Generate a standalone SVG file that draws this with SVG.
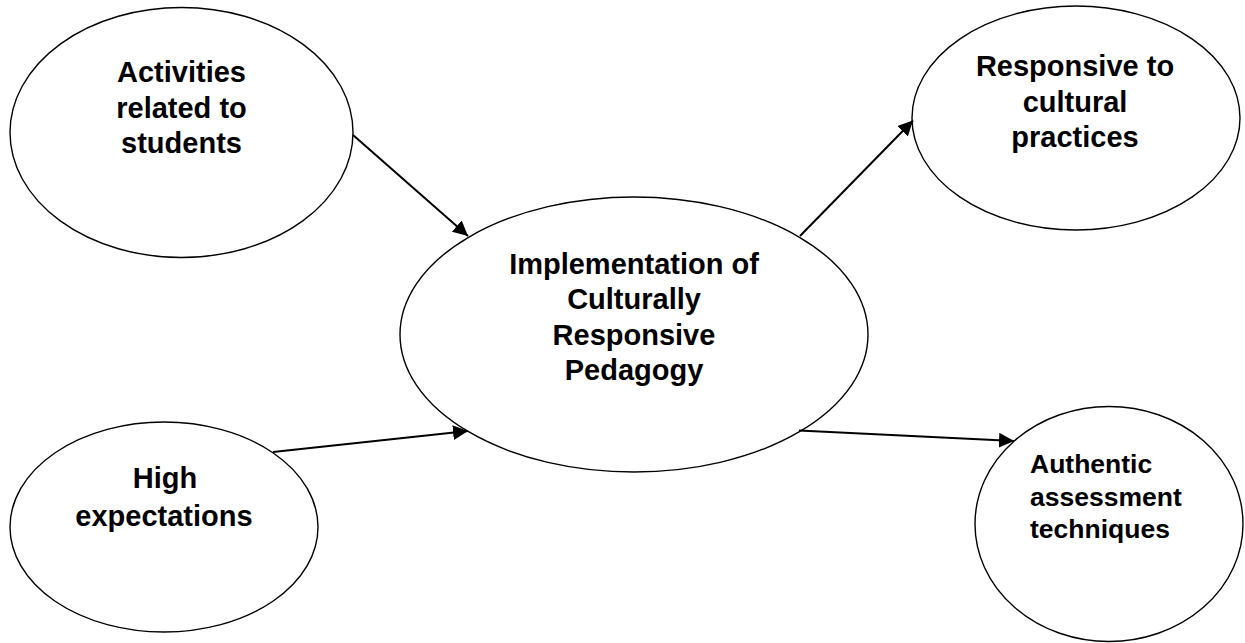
<svg xmlns="http://www.w3.org/2000/svg" width="1245" height="643" viewBox="0 0 1245 643">
<style>
.node ellipse{fill:#fff;stroke:#000;stroke-width:1.4}
.lbl{font-family:"Liberation Sans",Arial,sans-serif;font-weight:bold;font-size:29px;fill:#000;text-anchor:middle}
.sm{font-size:26.5px;text-anchor:start}
.conn line{stroke:#000;stroke-width:2;marker-end:url(#arr)}
</style>
<defs>
<marker id="arr" markerWidth="16" markerHeight="15" refX="15" refY="7.5" orient="auto" markerUnits="userSpaceOnUse">
<path d="M0,0 L15,7.5 L0,15 Z" fill="#000"/>
</marker>
</defs>
<rect width="1245" height="643" fill="#fff"/>
<g id="n-activities" class="node">
<ellipse cx="181.5" cy="132.5" rx="171.5" ry="125"/>
<text class="lbl" x="181.5" y="82">Activities</text>
<text class="lbl" x="181.5" y="117.5">related to</text>
<text class="lbl" x="181.5" y="153">students</text>
</g>
<g id="n-center" class="node">
<ellipse cx="634" cy="334.5" rx="234" ry="137.5"/>
<text class="lbl" x="634" y="273.5">Implementation of</text>
<text class="lbl" x="634" y="309">Culturally</text>
<text class="lbl" x="634" y="344.5">Responsive</text>
<text class="lbl" x="634" y="380">Pedagogy</text>
</g>
<g id="n-responsive" class="node">
<ellipse cx="1076" cy="118" rx="164" ry="112"/>
<text class="lbl" x="1075" y="76">Responsive to</text>
<text class="lbl" x="1075" y="111.5">cultural</text>
<text class="lbl" x="1075" y="147">practices</text>
</g>
<g id="n-high" class="node">
<ellipse cx="164" cy="527" rx="154" ry="105"/>
<text class="lbl" x="165" y="487.5">High</text>
<text class="lbl" x="164" y="525.5">expectations</text>
</g>
<g id="n-authentic" class="node">
<ellipse cx="1109" cy="524" rx="134" ry="117.5"/>
<text class="lbl sm" x="1030" y="472.5">Authentic</text>
<text class="lbl sm" x="1030" y="505.5">assessment</text>
<text class="lbl sm" x="1030" y="537.5">techniques</text>
</g>
<g id="connectors" class="conn">
<line x1="353" y1="135" x2="468" y2="236"/>
<line x1="273" y1="452" x2="468" y2="431"/>
<line x1="800" y1="236" x2="913" y2="120.5"/>
<line x1="799" y1="430.5" x2="1014" y2="441"/>
</g>
</svg>
